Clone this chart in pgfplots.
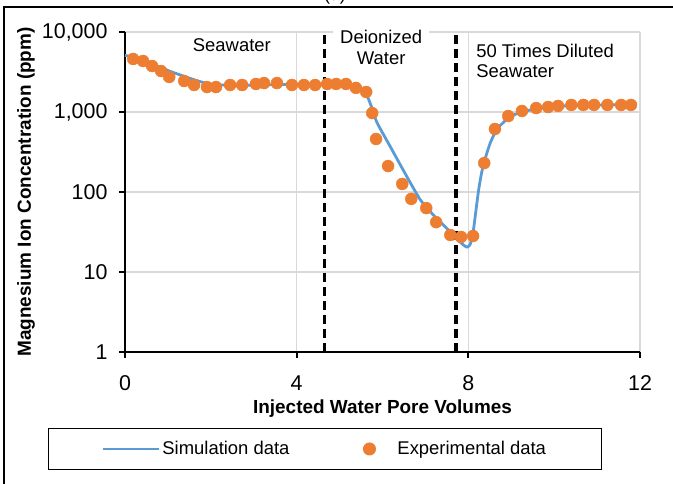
\documentclass[border=0pt]{standalone}
\usepackage{fontspec}
\setmainfont{Liberation Sans}
\usepackage{pgfplots}
\pgfplotsset{compat=1.18}
\definecolor{exblue}{HTML}{5B9BD5}
\definecolor{exorange}{HTML}{ED7D31}
\definecolor{exgrid}{HTML}{D9D9D9}
\pgfplotsset{
  simleg/.style={legend image code/.code={\draw[##1,line width=2.8bp] (0bp,0bp) -- (56bp,0bp);}},
  expleg/.style={legend image code/.code={\path[draw=none,fill=none] (-28bp,0bp) -- (26bp,0bp);
    \draw[##1] plot coordinates {(0bp,0bp)};}},
}
\begin{document}
\begin{tikzpicture}
\useasboundingbox (0,0) rectangle (673bp,484bp);
\draw[line width=1.3bp] (4bp,0) -- (4bp,477bp) -- (673bp,477bp);
\node[anchor=base,font=\fontsize{18}{21}\selectfont] at (335bp,483bp) {(a)};
\begin{axis}[
    at={(125bp,132bp)},anchor=south west,
    width=515bp,height=320bp,scale only axis,
    xmin=0,xmax=12,ymin=1,ymax=10000,
    ymode=log,
    xtick={0,4,8,12},xticklabels={0,4,8,12},
    ytick={1,10,100,1000,10000},
    yticklabels={1,10,100,{1,000},{10,000}},
    yminorticks=false,
    axis lines*=left,
    axis line style={-,line width=2.4bp,black},
    tick align=outside,major tick length=6bp,
    tick style={line width=2bp,black},
    grid=major,grid style={draw=exgrid,line width=1.2bp},
    tick label style={font=\fontsize{21.5}{24}\selectfont},
    xticklabel style={anchor=north,yshift=-14bp},
    yticklabel style={anchor=east,xshift=-8bp},
    xlabel={\bfseries Injected Water Pore Volumes},
    ylabel={\bfseries Magnesium Ion Concentration (ppm)},
    label style={font=\fontsize{19}{22}\selectfont},
    xlabel style={at={(axis description cs:0.5,-0.178)},anchor=center},
    ylabel style={at={(axis description cs:-0.192,0.5)},anchor=center},
    legend style={at={(axis description cs:0.388,-0.303)},anchor=center,
      draw=black,line width=1bp,
      font=\fontsize{18.5}{21}\selectfont,
      inner xsep=53bp,inner ysep=11bp,
      /tikz/every even column/.append style={column sep=50bp}},
    legend columns=2,
    clip=false,
]
% phase boundaries
\addplot[black,line width=3.8bp,dash pattern=on 9bp off 5bp,forget plot]
  coordinates {(4.65,1) (4.65,10000)};
\addplot[black,line width=3.8bp,dash pattern=on 9bp off 5bp,forget plot]
  coordinates {(7.72,1) (7.72,10000)};
% simulation
\addplot[exblue,line width=2.8bp,smooth,tension=0.4,simleg]
  coordinates {
  (0,5100) (0.25,4750) (0.5,4250) (0.75,3750) (1.0,3300) (1.25,2950)
  (1.5,2650) (1.75,2400) (2.0,2220) (2.5,2150) (3.0,2170) (3.5,2200)
  (4.0,2210) (4.5,2210) (5.0,2220) (5.2,2180) (5.4,2050) (5.55,1850)
  (5.65,1550) (5.76,1100) (5.87,740) (6.18,370) (6.57,155) (6.88,80)
  (7.15,54) (7.5,35) (7.76,25) (7.9,21.5) (7.97,20.5) (8.04,22)
  (8.11,31) (8.24,106) (8.34,207) (8.51,410) (8.69,630) (8.97,870)
  (9.25,1000) (9.6,1100) (10.0,1170) (10.5,1210) (11.0,1225) (11.8,1235)
  };
\addlegendentry{Simulation data}
% experiment
\addplot[only marks,mark=*,mark size=6bp,color=exorange,expleg]
  coordinates {
  (0.19,4600) (0.42,4340) (0.63,3760) (0.84,3250) (1.03,2740) (1.38,2440)
  (1.61,2175) (1.91,2050) (2.12,2050) (2.45,2175) (2.73,2175) (3.05,2240)
  (3.24,2300) (3.54,2300) (3.89,2175) (4.17,2175) (4.43,2175) (4.71,2240)
  (4.92,2240) (5.15,2240) (5.38,2000) (5.62,1780) (5.76,970) (5.85,460)
  (6.13,211) (6.46,126) (6.67,82) (7.02,63) (7.25,42) (7.58,29)
  (7.83,27.4) (8.11,28.2) (8.37,230) (8.62,613) (8.93,890) (9.25,1030)
  (9.58,1120) (9.86,1155) (10.09,1190) (10.40,1225) (10.68,1225) (10.93,1225)
  (11.24,1225) (11.56,1225) (11.79,1225)
  };
\addlegendentry{Experimental data}
% phase labels
\node[fill=white,inner xsep=20bp,inner ysep=3bp,font=\fontsize{18.5}{21}\selectfont]
  at (axis cs:2.49,6900) {Seawater};
\node[fill=white,inner xsep=7bp,inner ysep=3bp,align=center,font=\fontsize{18.5}{21}\selectfont]
  at (axis cs:5.97,6500) {Deionized\\Water};
\node[anchor=west,inner sep=0pt,align=left,font=\fontsize{18.5}{21}\selectfont]
  at (axis cs:8.18,4350) {50 Times Diluted\\Seawater};
\end{axis}
\end{tikzpicture}
\end{document}
